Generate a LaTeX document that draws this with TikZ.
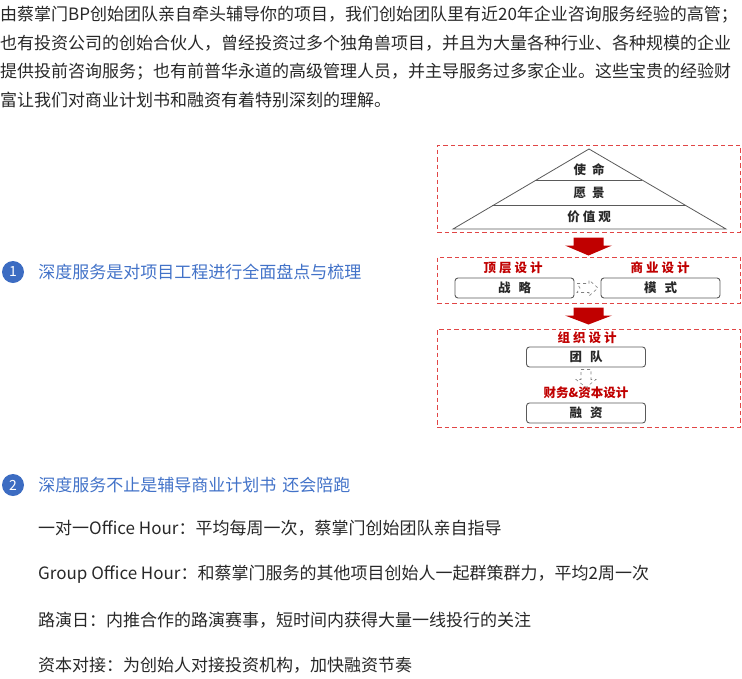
\documentclass[tikz,border=0pt]{standalone}
\usepackage{fontspec}
\setmainfont{Noto Sans CJK SC}
\usetikzlibrary{positioning,calc}
\definecolor{bodytext}{RGB}{40,40,40}
\definecolor{headblue}{RGB}{66,114,200}
\definecolor{dotblue}{RGB}{60,108,194}
\definecolor{darkred}{RGB}{192,0,0}
\definecolor{framered}{RGB}{225,70,70}
\definecolor{boxgray}{RGB}{90,90,90}
\tikzset{
  bodyline/.style={anchor=west, inner sep=0pt, text=bodytext, font=\fontsize{17}{20}\selectfont},
  headline/.style={anchor=west, inner sep=0pt, text=headblue, font=\fontsize{17}{20}\selectfont},
  numdot/.style={circle, fill=dotblue, minimum size=22pt, inner sep=0pt, text=white, font=\fontsize{14}{14}\selectfont},
  dashframe/.style={draw=framered, dash pattern=on 4.5pt off 3pt, line width=1pt, minimum width=303pt},
  stagebox/.style={draw=boxgray, rounded corners=3pt, line width=0.9pt, minimum width=119pt, minimum height=20pt, inner sep=0pt, text=bodytext, font=\bfseries\fontsize{12.5}{13}\selectfont},
  tierlabel/.style={text=bodytext, inner sep=0pt, font=\bfseries\fontsize{12.5}{13}\selectfont},
  redlabel/.style={text=darkred, inner sep=0pt, font=\bfseries\fontsize{12.5}{13}\selectfont},
  pyramid/.style={draw=boxgray, line width=0.8pt},
  hintarrow/.style={draw=gray, dashed, line width=0.6pt}
}
\begin{document}
\begin{tikzpicture}[x=1pt, y=-1pt]
  \useasboundingbox (0,0) rectangle (742,678);
  % opening text
  \node [bodyline] (p1) at (0,15) {由蔡掌门BP创始团队亲自牵头辅导你的项目，我们创始团队里有近20年企业咨询服务经验的高管；};
  \node [bodyline] (p2) at (0,43) {也有投资公司的创始合伙人，曾经投资过多个独角兽项目，并且为大量各种行业、各种规模的企业};
  \node [bodyline] (p3) at (0,72) {提供投前咨询服务；也有前普华永道的高级管理人员，并主导服务过多家企业。这些宝贵的经验财};
  \node [bodyline] (p4) at (0,100) {富让我们对商业计划书和融资有着特别深刻的理解。};
  % point 1
  \node [numdot] (n1) at (13,272) {1};
  \node [headline, right=14pt of n1] (h1) {深度服务是对项目工程进行全面盘点与梳理};
  % point 2
  \node [numdot] (n2) at (13,485) {2};
  \node [headline, right=14pt of n2] (h2) {深度服务不止是辅导商业计划书\hspace{6pt}还会陪跑};
  \node [bodyline] (b1) at (38,528) {一对一Office Hour：平均每周一次，蔡掌门创始团队亲自指导};
  \node [bodyline] (b2) at (38,574) {Group Office Hour：和蔡掌门服务的其他项目创始人一起群策群力，平均2周一次};
  \node [bodyline] (b3) at (38,620) {路演日：内推合作的路演赛事，短时间内获得大量一线投行的关注};
  \node [bodyline] (b4) at (38,665) {资本对接：为创始人对接投资机构，加快融资节奏};
  % frames
  \node [dashframe, minimum height=87pt] (fa) at (588.5,188.5) {};
  \node [dashframe, minimum height=46pt] (fb) at (588.5,280) {};
  \node [dashframe, minimum height=98pt] (fc) at (588.5,378) {};
  % pyramid
  \coordinate (top) at (589,149);
  \coordinate (bl) at (453,229);
  \coordinate (br) at (726,229);
  \draw [pyramid] (top) -- (bl) -- (br) -- cycle;
  \draw [pyramid] ($(top)!0.39!(bl)$) -- ($(top)!0.39!(br)$);
  \draw [pyramid] ($(top)!0.71!(bl)$) -- ($(top)!0.71!(br)$);
  \node [tierlabel] (t1) at (589,170) {使\hspace{6pt}命};
  \node [tierlabel] (t2) at (589,193) {愿\hspace{6pt}景};
  \node [tierlabel] (t3) at (589,217) {价\hspace{3pt}值\hspace{3pt}观};
  % red arrows
  \fill [darkred, shift={(fa.south)}] (-15,5) -- (15,5) -- (15,13) -- (23.5,13) -- (0,23) -- (-23.5,13) -- (-15,13) -- cycle;
  \fill [darkred, shift={(fb.south)}] (-15,4) -- (15,4) -- (15,12) -- (23.5,12) -- (0,21) -- (-23.5,12) -- (-15,12) -- cycle;
  % strategy and model
  \node [redlabel] (l1) at (513,268) {顶\hspace{3pt}层\hspace{3pt}设\hspace{3pt}计};
  \node [redlabel] (l2) at (660,268) {商\hspace{3pt}业\hspace{3pt}设\hspace{3pt}计};
  \node [stagebox] (zl) at (514.5,288) {战\hspace{8pt}略};
  \node [stagebox] (ms) at (660.5,288) {模\hspace{8pt}式};
  \draw [hintarrow, shift={($(zl.east)!0.5!(ms.west)$)}] (-10.5,-4.5) -- (1.5,-4.5) -- (1.5,-8) -- (10.5,0) -- (1.5,8) -- (1.5,4.5) -- (-10.5,4.5) -- (-7.5,0) -- cycle;
  % team and funding
  \node [redlabel] (l3) at (587,338) {组\hspace{3pt}织\hspace{3pt}设\hspace{3pt}计};
  \node [stagebox] (td) at (586,357) {团\hspace{8pt}队};
  \node [redlabel] (l4) at (586,393) {财务\&资本设计};
  \node [stagebox] (rz) at (586,413) {融\hspace{8pt}资};
  \draw [hintarrow, shift={(td.south)}] (-5,2) -- (5,2) -- (5,12) -- (10,12) -- (0,20) -- (-10,12) -- (-5,12) -- cycle;
\end{tikzpicture}
\end{document}
